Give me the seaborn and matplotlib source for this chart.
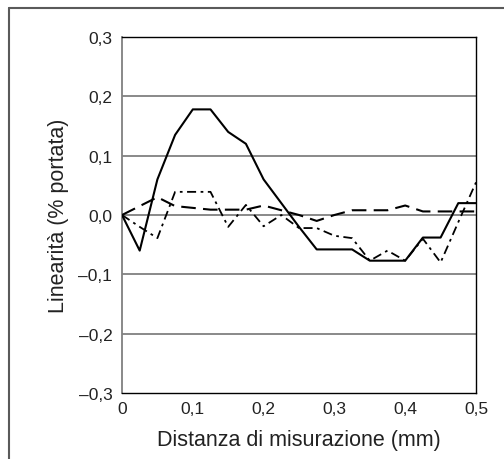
import numpy as np
import pandas as pd
import seaborn as sns
import matplotlib.pyplot as plt
from matplotlib.lines import Line2D
from matplotlib.ticker import FixedLocator, FuncFormatter

# distanza di misurazione (mm)
distanza = [0.0, 0.025, 0.05, 0.075, 0.1, 0.125, 0.15, 0.175, 0.2, 0.225, 0.25,
            0.275, 0.3, 0.325, 0.35, 0.375, 0.4, 0.425, 0.45, 0.475, 0.5]

# linearità (% portata), tre curve
serie_continua = [0.0, -0.06, 0.06, 0.135, 0.178, 0.178, 0.14, 0.12, 0.06, 0.02, -0.02,
                  -0.058, -0.058, -0.058, -0.077, -0.077, -0.077, -0.038, -0.038, 0.02, 0.02]
serie_tratteggio = [0.0, 0.015, 0.03, 0.015, 0.012, 0.009, 0.009, 0.009, 0.016, 0.008, 0.0,
                    -0.01, 0.0, 0.008, 0.008, 0.008, 0.016, 0.006, 0.006, 0.006, 0.006]
serie_puntotratto = [0.0, -0.02, -0.039, 0.039, 0.039, 0.039, -0.02, 0.017, -0.019, 0.0, -0.022,
                     -0.022, -0.035, -0.039, -0.077, -0.06, -0.077, -0.04, -0.08, -0.012, 0.055]

y_ticks = [-0.3, -0.2, -0.1, 0.0, 0.1, 0.2, 0.3]
x_ticks = [0.0, 0.1, 0.2, 0.3, 0.4, 0.5]

sns.set_style("white")
plt.rcParams['font.family'] = ['Liberation Sans', 'DejaVu Sans']

fig = plt.figure(figsize = (5.04, 4.6), dpi = 100)
ax = fig.add_axes([122 / 504, 66 / 460, 354 / 504, 356 / 460])

df = pd.DataFrame({"x": distanza, "continua": serie_continua,
                   "tratteggio": serie_tratteggio, "puntotratto": serie_puntotratto})

for y in y_ticks[1:-1]:
    ax.axhline(y, color = "#808080", lw = 1.3, zorder = 1)

sns.lineplot(data = df, x = "x", y = "continua", ax = ax, color = "black", lw = 1.5, zorder = 3)
sns.lineplot(data = df, x = "x", y = "tratteggio", ax = ax, color = "black", lw = 1.5,
             zorder = 3).lines[-1].set_dashes([7, 3.5])
sns.lineplot(data = df, x = "x", y = "puntotratto", ax = ax, color = "black", lw = 1.3,
             zorder = 3).lines[-1].set_dashes([5, 2.5, 1.5, 2.5])

def etichetta(v, p):
    return f"{v:.1f}".replace(".", ",").replace("-", "\u2013")

ax.set_xlim(0, 0.5)
ax.set_ylim(-0.3, 0.3)
ax.yaxis.set_major_locator(FixedLocator(y_ticks))
ax.xaxis.set_major_locator(FixedLocator(x_ticks))
ax.xaxis.set_major_formatter(FuncFormatter(lambda v, p: "0" if abs(v) < 1e-9 else etichetta(v, p)))
ax.yaxis.set_major_formatter(FuncFormatter(etichetta))
ax.tick_params(axis = "y", length = 0, labelsize = 12.5, pad = 7, labelcolor = "#222222")
ax.tick_params(axis = "x", direction = "in", length = 4, width = 0.8, labelsize = 12.5, pad = 6,
               labelcolor = "#222222")
ax.set_xlabel("Distanza di misurazione (mm)", fontsize = 15.5, labelpad = 9, color = "#222222")
ax.set_ylabel("Linearità (% portata)", fontsize = 15.5, labelpad = 7, color = "#222222")

for side in ["top", "right", "bottom"]:
    ax.spines[side].set_color("black")
    ax.spines[side].set_linewidth(1.0)
ax.spines["left"].set_color("#808080")
ax.spines["left"].set_linewidth(1.3)

# cornice esterna
fig.add_artist(Line2D([9 / 504, 1], [1 - 9 / 460, 1 - 9 / 460], transform = fig.transFigure,
                      color = "#5a5a5a", lw = 1.5))
fig.add_artist(Line2D([9 / 504, 9 / 504], [0, 1 - 9 / 460], transform = fig.transFigure,
                      color = "#5a5a5a", lw = 1.5))

fig.savefig("out.png", dpi = 100)
